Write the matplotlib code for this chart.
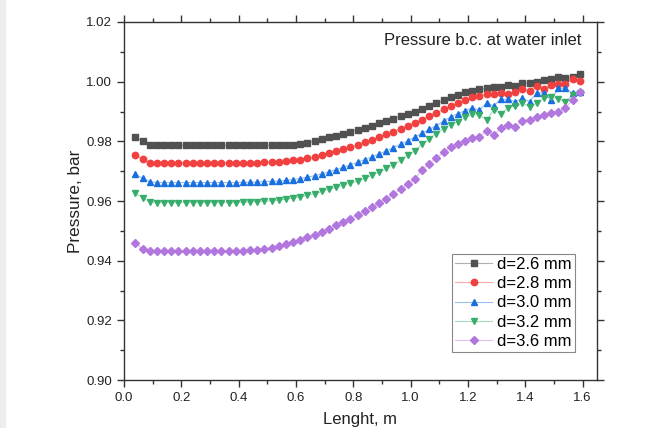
import matplotlib
matplotlib.use("Agg")
import matplotlib.pyplot as plt
from matplotlib.colors import to_rgba
from matplotlib.ticker import MultipleLocator

plt.rcParams['font.family'] = ['Liberation Sans', 'DejaVu Sans']

# channel length positions, m
length = [0.04, 0.065, 0.09, 0.115, 0.14, 0.165, 0.19, 0.215, 0.24, 0.265,
          0.29, 0.315, 0.34, 0.365, 0.39, 0.415, 0.44, 0.465, 0.49, 0.515,
          0.54, 0.565, 0.59, 0.615, 0.64, 0.665, 0.69, 0.715, 0.74, 0.765,
          0.79, 0.815, 0.84, 0.865, 0.89, 0.915, 0.94, 0.965, 0.99, 1.015,
          1.04, 1.065, 1.09, 1.115, 1.14, 1.165, 1.19, 1.215, 1.24, 1.265,
          1.29, 1.315, 1.34, 1.365, 1.39, 1.415, 1.44, 1.465, 1.49, 1.515,
          1.54, 1.565, 1.59]

# pressure, bar
p_26 = [0.9815, 0.9800, 0.9789, 0.9787, 0.9787, 0.9787, 0.9787, 0.9787, 0.9787, 0.9787,
        0.9787, 0.9787, 0.9787, 0.9787, 0.9787, 0.9787, 0.9787, 0.9787, 0.9787, 0.9787,
        0.9787, 0.9788, 0.9789, 0.9792, 0.9796, 0.9801, 0.9807, 0.9813, 0.9819, 0.9825,
        0.9832, 0.9839, 0.9846, 0.9853, 0.9861, 0.9869, 0.9876, 0.9884, 0.9892, 0.9900,
        0.9908, 0.9917, 0.9927, 0.9938, 0.9948, 0.9956, 0.9964, 0.9970, 0.9974, 0.9978,
        0.9982, 0.9983, 0.9988, 0.9986, 0.9996, 0.9995, 0.9999, 1.0005, 1.0008, 1.0017,
        1.0011, 1.0015, 1.0025]
p_28 = [0.9755, 0.9740, 0.9729, 0.9727, 0.9727, 0.9727, 0.9727, 0.9727, 0.9727, 0.9727,
        0.9727, 0.9727, 0.9727, 0.9727, 0.9727, 0.9728, 0.9728, 0.9729, 0.9730, 0.9731,
        0.9732, 0.9733, 0.9736, 0.9739, 0.9743, 0.9748, 0.9753, 0.9760, 0.9767, 0.9774,
        0.9781, 0.9789, 0.9797, 0.9806, 0.9815, 0.9823, 0.9832, 0.9842, 0.9852, 0.9862,
        0.9873, 0.9884, 0.9896, 0.9907, 0.9918, 0.9928, 0.9937, 0.9947, 0.9953, 0.9957,
        0.9960, 0.9961, 0.9958, 0.9967, 0.9975, 0.9970, 0.9986, 0.9975, 0.9989, 0.9992,
        0.9992, 1.0008, 1.0003]
p_30 = [0.9690, 0.9676, 0.9664, 0.9662, 0.9662, 0.9662, 0.9662, 0.9662, 0.9662, 0.9662,
        0.9662, 0.9662, 0.9662, 0.9662, 0.9662, 0.9663, 0.9663, 0.9664, 0.9665, 0.9666,
        0.9667, 0.9669, 0.9672, 0.9675, 0.9680, 0.9685, 0.9691, 0.9698, 0.9705, 0.9713,
        0.9721, 0.9730, 0.9739, 0.9748, 0.9758, 0.9768, 0.9779, 0.9790, 0.9802, 0.9815,
        0.9827, 0.9840, 0.9853, 0.9868, 0.9882, 0.9893, 0.9903, 0.9912, 0.9905, 0.9928,
        0.9919, 0.9941, 0.9941, 0.9933, 0.9944, 0.9933, 0.9963, 0.9961, 0.9939, 0.9978,
        0.9978, 0.9961, 0.9967]
p_32 = [0.9626, 0.9611, 0.9597, 0.9595, 0.9595, 0.9595, 0.9595, 0.9595, 0.9595, 0.9595,
        0.9595, 0.9595, 0.9595, 0.9595, 0.9595, 0.9596, 0.9597, 0.9598, 0.9599, 0.9601,
        0.9603, 0.9606, 0.9610, 0.9614, 0.9619, 0.9625, 0.9632, 0.9639, 0.9646, 0.9653,
        0.9660, 0.9667, 0.9676, 0.9686, 0.9697, 0.9709, 0.9722, 0.9737, 0.9753, 0.9769,
        0.9790, 0.9808, 0.9826, 0.9843, 0.9856, 0.9866, 0.9880, 0.9890, 0.9888, 0.9872,
        0.9905, 0.9892, 0.9911, 0.9919, 0.9928, 0.9916, 0.9928, 0.9944, 0.9950, 0.9941,
        0.9933, 0.9955, 0.9961]
p_36 = [0.9458, 0.9440, 0.9432, 0.9431, 0.9431, 0.9431, 0.9431, 0.9431, 0.9431, 0.9431,
        0.9431, 0.9431, 0.9431, 0.9432, 0.9433, 0.9434, 0.9435, 0.9437, 0.9440, 0.9443,
        0.9448, 0.9455, 0.9462, 0.9470, 0.9478, 0.9487, 0.9497, 0.9507, 0.9518, 0.9529,
        0.9541, 0.9554, 0.9567, 0.9580, 0.9594, 0.9608, 0.9622, 0.9640, 0.9656, 0.9675,
        0.9705, 0.9725, 0.9743, 0.9765, 0.9781, 0.9792, 0.9800, 0.9810, 0.9815, 0.9836,
        0.9821, 0.9844, 0.9855, 0.9849, 0.9869, 0.9872, 0.9881, 0.9888, 0.9896, 0.9899,
        0.9913, 0.9939, 0.9967]

series = [p_26, p_28, p_30, p_32, p_36]
labels = ['d=2.6 mm', 'd=2.8 mm', 'd=3.0 mm', 'd=3.2 mm', 'd=3.6 mm']
colors = ['#515151', '#F14040', '#1A6FDF', '#37AD6B', '#B177DE']
markers = ['s', 'o', '^', 'v', 'D']
msizes = [4.3, 4.6, 4.8, 4.8, 4.0]

fig = plt.figure(figsize=(6.62, 4.28), dpi=100)
ax = fig.add_axes([0.1873, 0.1121, 0.7145, 0.8365])

for y, lab, c, m, ms in zip(series, labels, colors, markers, msizes):
    ax.plot(length, y, color=to_rgba(c, 0.45), lw=0.8, marker=m, ms=ms,
            mfc=c, mec=c, label=lab)

ax.set_xlim(0, 1.65)
ax.set_ylim(0.90, 1.02)
ax.xaxis.set_major_locator(MultipleLocator(0.2))
ax.xaxis.set_minor_locator(MultipleLocator(0.1))
ax.yaxis.set_major_locator(MultipleLocator(0.02))
ax.yaxis.set_minor_locator(MultipleLocator(0.01))
ax.xaxis.set_major_formatter(plt.FuncFormatter(lambda v, p: f'{v:.1f}'))
ax.yaxis.set_major_formatter(plt.FuncFormatter(lambda v, p: f'{v:.2f}'))

for s in ax.spines.values():
    s.set_color('#333333')
    s.set_linewidth(1.0)
ax.tick_params(which='both', direction='out', top=True, right=True,
               color='#333333', width=1.0, labelsize=9.5, labelcolor='#222222')
ax.tick_params(which='major', length=5)
ax.tick_params(which='minor', length=3)

ax.set_xlabel('Lenght, m', fontsize=12, labelpad=6, color='#222222')
ax.set_ylabel('Pressure, bar', fontsize=12.3, labelpad=2.5, color='#222222')

ax.text(0.966, 0.947, 'Pressure b.c. at water inlet', transform=ax.transAxes,
        ha='right', va='center', fontsize=12, color='#222222')

leg = ax.legend(loc='lower right', bbox_to_anchor=(0.9535, 0.078), borderaxespad=0,
                fontsize=12, numpoints=1, handlelength=2.2, handletextpad=0.3,
                labelspacing=0.25, borderpad=0.2, fancybox=False,
                framealpha=1, edgecolor='#888888')
leg.get_frame().set_linewidth(0.8)

# thin grey strip on the left edge of the canvas
fig.patches.append(plt.Rectangle((0, 0), 0.007, 1, transform=fig.transFigure,
                                 color='#eeeeee', zorder=-1))

fig.savefig('out.png', dpi=100)
